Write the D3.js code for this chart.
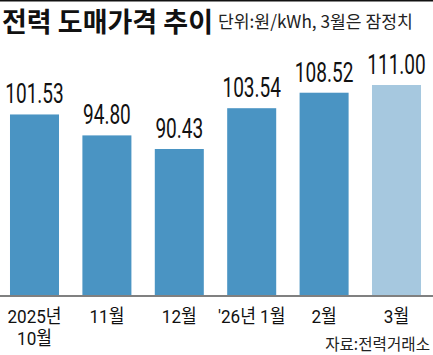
<!DOCTYPE html>
<html><head><meta charset="utf-8">
<script src="https://cdn.jsdelivr.net/npm/d3@7"></script>
<style>
html,body{margin:0;padding:0;background:#fff;}
svg{display:block;}
</style></head>
<body>
<svg id="c" width="433" height="355"></svg>
<script>
const categories = ["2025년|10월", "11월", "12월", "'26년 1월", "2월", "3월"];
const values = [101.53, 94.80, 90.43, 103.54, 108.52, 111.00];
const provisional = [false, false, false, false, false, true];
const valueLabels = ["101.53", "94.80", "90.43", "103.54", "108.52", "111.00"];
const title = "전력 도매가격 추이";
const subtitle = "단위:원/kWh, 3월은 잠정치";
const source = "자료:전력거래소";

const svg = d3.select("#c");
const W = 433, H = 355;
const baseY = 295;
const numFont = "Roboto, 'Noto Sans CJK KR', sans-serif";

const x = d3.scaleBand().domain(categories).range([-1.7, 432.7]).paddingInner(0.323).paddingOuter(0.1615);
const y = d3.scaleLinear().domain([43.5, 111]).range([baseY, 85]);

function fitText(sel, px, py, width) {
  const node = sel.node();
  const w = node.getComputedTextLength();
  sel.attr("transform", `translate(${px},${py}) scale(${width / w},1)`);
}

// top border
svg.append("rect").attr("x",0).attr("y",0).attr("width",W).attr("height",1.5).attr("fill","#111");

// title
const t = svg.append("text")
  .attr("font-family","'Noto Sans CJK KR'").attr("font-weight","bold").attr("font-size",27)
  .attr("fill","#111").text(title);
fitText(t, 2, 32, 211);
const st = svg.append("text")
  .attr("font-family","'Noto Sans CJK KR'").attr("font-size",17.5)
  .attr("fill","#222").text(subtitle);
fitText(st, 218, 28, 195);

// bars
svg.append("g").selectAll("rect").data(values).join("rect")
  .attr("x",(d,i)=>x(categories[i]))
  .attr("width",x.bandwidth())
  .attr("y",d=>y(d))
  .attr("height",d=>baseY - y(d))
  .attr("fill",(d,i)=>provisional[i] ? "#a6c8df" : "#4a94c3");

// value labels
svg.append("g").selectAll("text").data(values).join("text")
  .attr("transform",(d,i)=>`translate(${x(categories[i]) + x.bandwidth()/2},${y(d)-11}) scale(0.68,1)`)
  .attr("text-anchor","middle")
  .attr("font-family",numFont)
  .attr("font-size",28).attr("fill","#111")
  .text((d,i)=>valueLabels[i]);

// axis line
const xAxis = d3.axisBottom(x).tickSize(0).tickFormat("");
const ax = svg.append("g").attr("transform",`translate(0,${baseY+1})`).call(xAxis);
ax.select(".domain").attr("d",`M0,0H${W}`).attr("stroke","#808080").attr("stroke-width",2);

// category labels
const cl = svg.append("g");
categories.forEach((c,i)=>{
  const lines = c.split("|");
  const cx = x(c) + x.bandwidth()/2;
  lines.forEach((ln,j)=>{
    cl.append("text")
      .attr("transform",`translate(${cx},${322.5 + j*22.5}) scale(0.9,1)`)
      .attr("text-anchor","middle")
      .attr("font-family",numFont)
      .attr("font-size",19).attr("fill","#111")
      .text(ln);
  });
});

// source
const src = svg.append("text")
  .attr("text-anchor","end")
  .attr("font-family","'Noto Sans CJK KR'").attr("font-size",16.5)
  .attr("fill","#222").text(source);
fitText(src, 430, 350, 105);
</script>
</body></html>
